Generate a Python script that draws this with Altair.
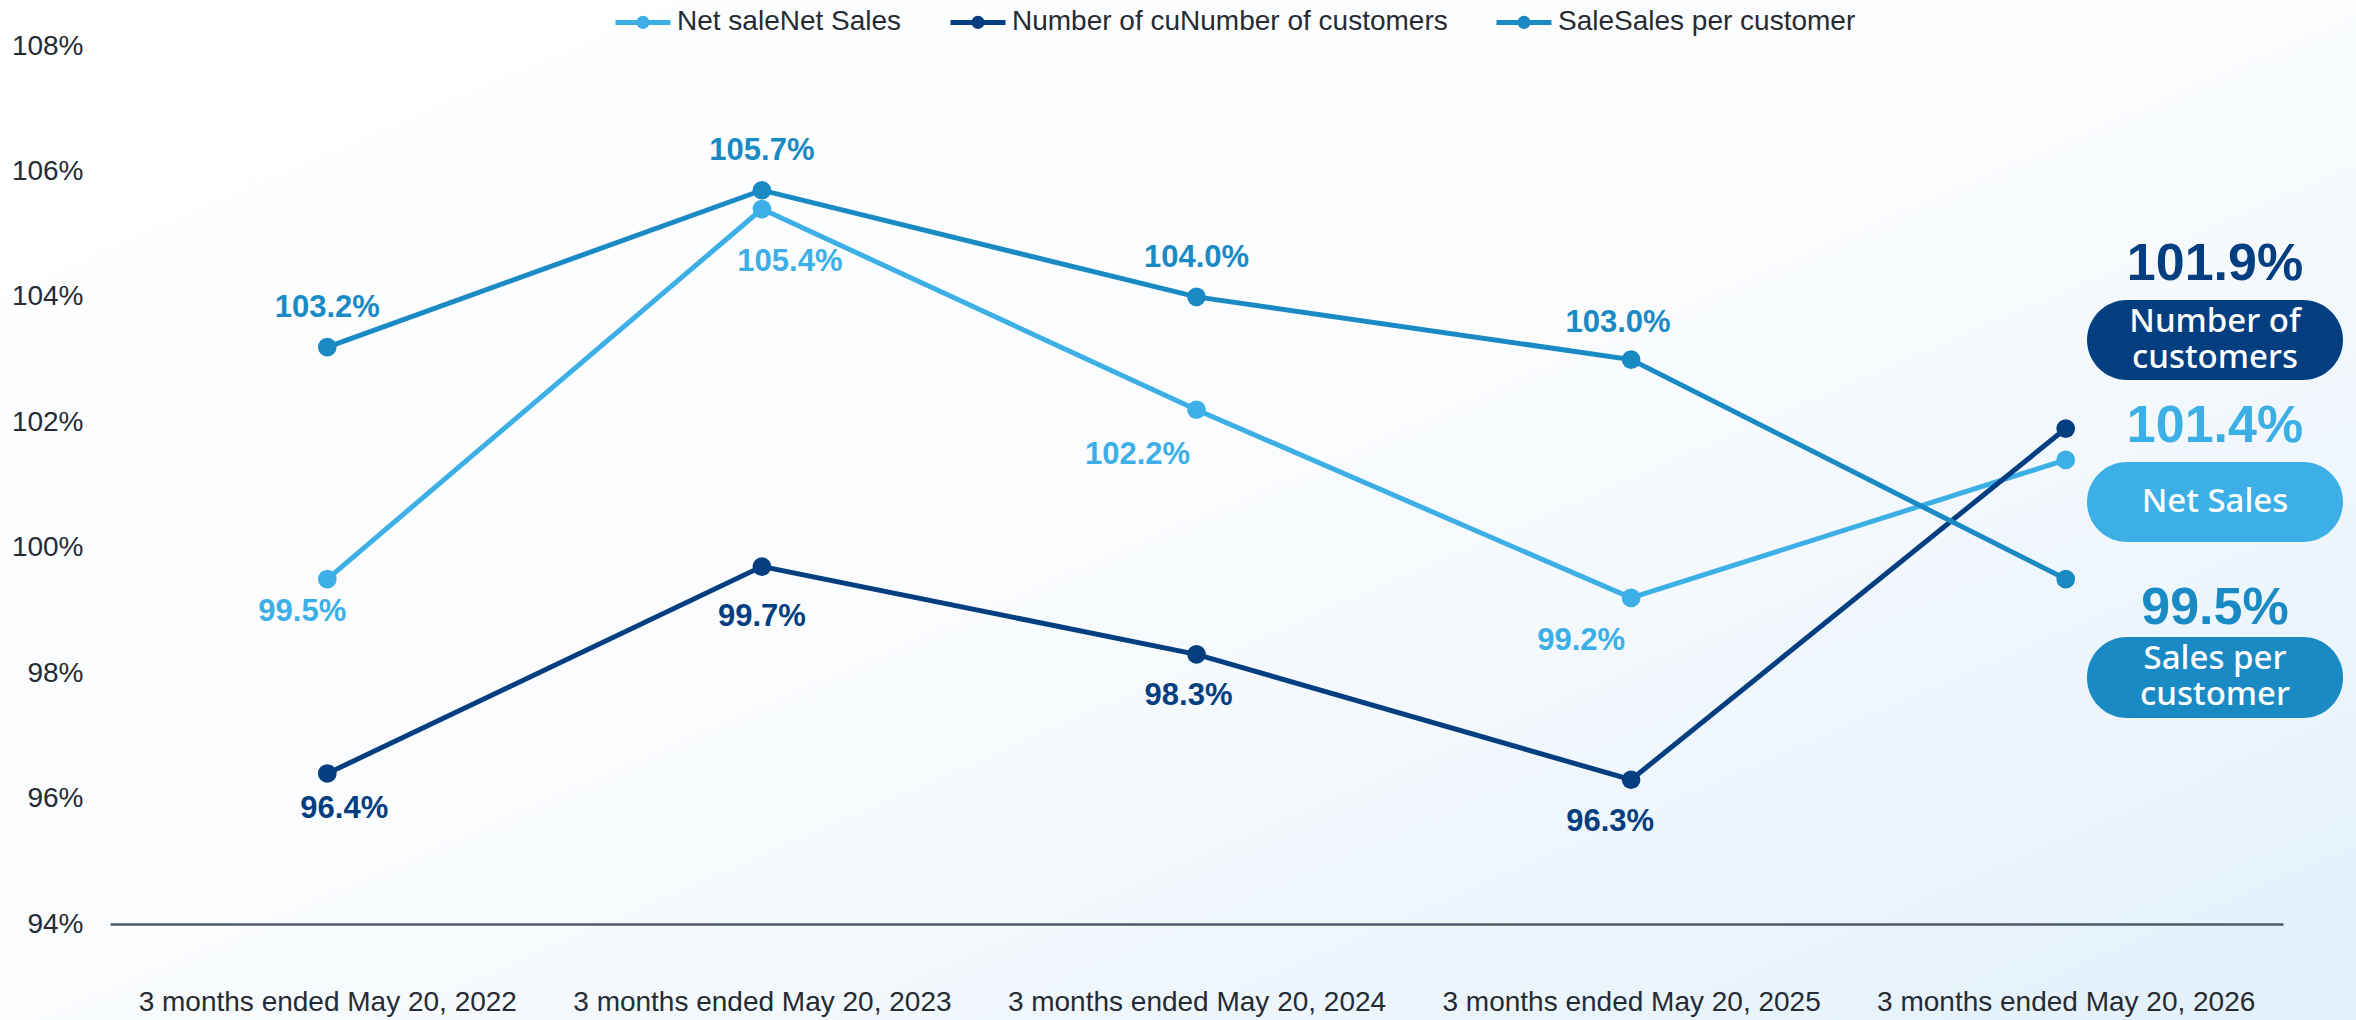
import altair as alt
import pandas as pd

# ---------------- data ----------------
categories = [
    "3 months ended May 20, 2022",
    "3 months ended May 20, 2023",
    "3 months ended May 20, 2024",
    "3 months ended May 20, 2025",
    "3 months ended May 20, 2026",
]
series_names = ["Net Sales", "Number of customers", "Sales per customer"]
legend_labels = ["Net saleNet Sales", "Number of cuNumber of customers", "SaleSales per customer"]
pill_labels = ["Net Sales", "Number of\ncustomers", "Sales per\ncustomer"]
net_sales = [99.5, 105.4, 102.2, 99.2, 101.4]
customers = [96.4, 99.7, 98.3, 96.3, 101.9]
sales_per_customer = [103.2, 105.7, 104.0, 103.0, 99.5]
y_ticks = [94, 96, 98, 100, 102, 104, 106, 108]

# ---------------- styling ----------------
colors = ["#3DAFE7", "#033F80", "#1A8AC4"]
FONT = "Liberation Sans, Arial, sans-serif"
PILL_FONT = "Noto Sans, Open Sans, sans-serif"
TEXT_COLOR = "#262B33"
W, H = 2173, 878
Y_MIN, Y_MAX = 94, 108
PILL_LH = 36


def px_to_val(p):
    return Y_MAX - p * (Y_MAX - Y_MIN) / H


values = {
    "Net Sales": net_sales,
    "Number of customers": customers,
    "Sales per customer": sales_per_customer,
}

rows = []
for s in series_names:
    for i, (c, v) in enumerate(zip(categories, values[s])):
        rows.append({"series": s, "category": c, "idx": i, "value": v})
df = pd.DataFrame(rows)

# label offsets (pixels) for the point labels of the first four periods
label_offsets = {
    "Net Sales": [(-25, 33), (28, 53), (-59, 45), (-50, 43)],
    "Number of customers": [(17, 36), (0, 50), (-8, 42), (-21, 42)],
    "Sales per customer": [(0, -39), (0, -39), (0, -39), (-13, -37)],
}

# right-hand panel (latest period)
panel_pos = {  # big-number centre y, pill top, pill bottom, pill text centre (pixels in plot area)
    "Number of customers": (218, 254, 334, 294),
    "Net Sales": (380, 416, 496, 456),
    "Sales per customer": (562, 591, 672, 631),
}
panel_rows = []
for s, pl in zip(series_names, pill_labels):
    ty, y1, y2, py = panel_pos[s]
    n_lines = pl.count("\n") + 1
    panel_rows.append({
        "series": s,
        "value": values[s][-1],
        "pill": pl,
        "ty": px_to_val(ty),
        "y1": px_to_val(y1),
        "y2": px_to_val(y2),
        "py": px_to_val(py - (n_lines - 1) * PILL_LH / 2),
    })
df_panel = pd.DataFrame(panel_rows)

color_scale = alt.Scale(domain=series_names, range=colors)
label_map = "{" + ", ".join(f"'{a}': '{b}'" for a, b in zip(series_names, legend_labels)) + "}"

SYMBOL = ("M-1,0L1,0"
          "M-0.15,0A0.15,0.15,0,1,1,0.15,0A0.15,0.15,0,1,1,-0.15,0"
          "M-0.06,0A0.06,0.06,0,1,1,0.06,0A0.06,0.06,0,1,1,-0.06,0")

x_enc = alt.X(
    "category:N",
    sort=categories,
    scale=alt.Scale(type="point", domain=categories, padding=0.5),
    axis=alt.Axis(
        title=None, labelAngle=0, labelFontSize=28, labelFont=FONT, labelColor=TEXT_COLOR,
        labelPadding=64, ticks=False, grid=False, domain=True, domainColor="#4F5A6B",
        domainWidth=2.5, labelLimit=1000, zindex=1,
    ),
)
y_enc = alt.Y(
    "value:Q",
    scale=alt.Scale(domain=[Y_MIN, Y_MAX], nice=False, zero=False),
    axis=alt.Axis(
        title=None, values=y_ticks, labelExpr="datum.value + '%'", labelFontSize=28,
        labelFont=FONT, labelColor=TEXT_COLOR, labelPadding=27, ticks=False, grid=False,
        domain=False, zindex=1,
    ),
)

# background gradient
gradient = alt.LinearGradient(
    gradient="linear", x1=0, y1=0, x2=1, y2=1,
    stops=[
        alt.GradientStop(offset=0, color="#FFFFFF"),
        alt.GradientStop(offset=0.5, color="#FAFCFE"),
        alt.GradientStop(offset=1, color="#E2F0FA"),
    ],
)
bg = alt.Chart(alt.Data(values=[{}])).mark_rect(fill=gradient).encode(
    x=alt.value(-110), x2=alt.value(W + 73), y=alt.value(-46), y2=alt.value(H + 96)
)

base = alt.Chart(df)

lines = base.mark_line(strokeWidth=5).encode(
    x=x_enc,
    y=y_enc,
    color=alt.Color(
        "series:N", scale=color_scale,
        legend=alt.Legend(
            orient="none", legendX=503, legendY=-54, direction="horizontal", title=None,
            symbolType=SYMBOL, symbolSize=3025, symbolStrokeWidth=5, symbolOpacity=1,
            labelFontSize=28, labelFont=FONT, labelColor=TEXT_COLOR, labelOffset=4,
            columnPadding=38, labelLimit=1000, labelExpr=f"{label_map}[datum.label]", zindex=1,
        ),
    ),
    detail="series:N",
)

points = base.mark_circle(size=350, opacity=1).encode(
    x=alt.X("category:N", sort=categories),
    y="value:Q",
    color=alt.Color("series:N", scale=color_scale, legend=None),
)

# point labels: one small layer per label so each can have its own offset
label_layers = []
for s in series_names:
    for i in range(4):
        dx, dy = label_offsets[s][i]
        label_layers.append(
            base.transform_filter(
                (alt.datum.series == s) & (alt.datum.idx == i)
            ).transform_calculate(
                txt="format(datum.value, '.1f') + '%'"
            ).mark_text(
                font=FONT, fontSize=31, fontWeight="bold", align="center", baseline="middle",
                dx=dx, dy=dy,
            ).encode(
                x=alt.X("category:N", sort=categories),
                y="value:Q",
                text="txt:N",
                color=alt.Color("series:N", scale=color_scale, legend=None),
            )
        )

panel = alt.Chart(df_panel)
big = panel.transform_calculate(
    txt="format(datum.value, '.1f') + '%'"
).mark_text(font=FONT, fontSize=52, fontWeight="bold", align="center", baseline="middle").encode(
    x=alt.value(2105),
    y="ty:Q",
    text="txt:N",
    color=alt.Color("series:N", scale=color_scale, legend=None),
)
pills = panel.mark_rect(cornerRadius=40).encode(
    x=alt.value(1977), x2=alt.value(2233),
    y="y1:Q", y2="y2:Q",
    color=alt.Color("series:N", scale=color_scale, legend=None),
)
pill_text = panel.mark_text(
    font=PILL_FONT, fontSize=33, fontWeight=500, color="white", align="center",
    baseline="middle", lineBreak="\n", lineHeight=PILL_LH,
).encode(
    x=alt.value(2105),
    y="py:Q",
    text="pill:N",
)

chart = alt.layer(bg, lines, points, *label_layers, big, pills, pill_text).properties(
    width=W, height=H,
    padding={"left": 110, "top": 46, "right": 73, "bottom": 96},
    autosize=alt.AutoSizeParams(type="none"),
    background="white",
).configure_view(stroke=None)

chart.save("out.html", embed_options={"renderer": "svg", "actions": False})
